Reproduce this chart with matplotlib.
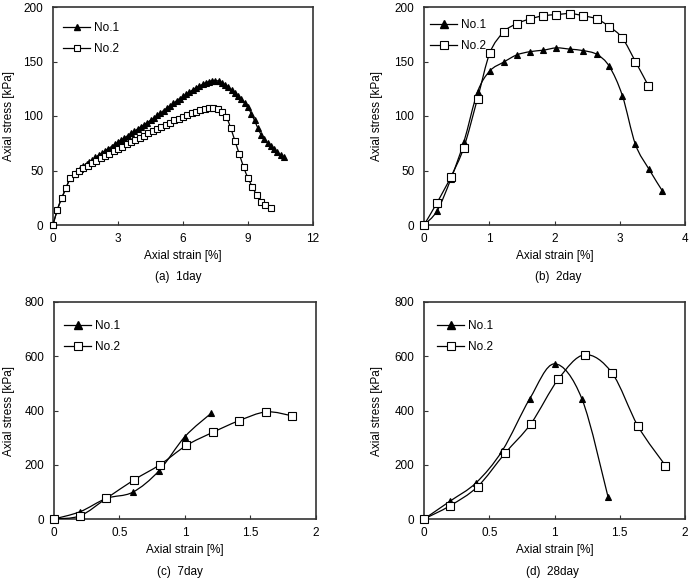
import numpy as np
import matplotlib
matplotlib.use("Agg")
import matplotlib.pyplot as plt
from matplotlib.path import Path
from matplotlib.patches import PathPatch
from matplotlib.lines import Line2D

plt.rcParams['font.family'] = ['Liberation Sans', 'DejaVu Sans']
plt.rcParams['font.size'] = 8.5

# ---------------- data ----------------
# (a) 1 day
a1_x = [0.00, 0.20, 0.40, 0.60, 0.80, 0.95, 1.10, 1.25, 1.40, 1.55, 1.65, 1.80, 1.95,
        2.10, 2.25, 2.40, 2.55, 2.70, 2.85, 3.00, 3.15, 3.30, 3.45, 3.60, 3.75, 3.90, 4.05,
        4.20, 4.35, 4.50, 4.65, 4.80, 4.95, 5.10, 5.25, 5.40, 5.55, 5.70, 5.85, 6.00, 6.15,
        6.30, 6.45, 6.60, 6.75, 6.90, 7.05, 7.20, 7.35, 7.50, 7.65, 7.80, 7.95, 8.10, 8.25,
        8.40, 8.55, 8.70, 8.85, 9.00, 9.15, 9.30, 9.45, 9.60, 9.75, 9.90, 10.05, 10.20,
        10.35, 10.50, 10.65]
a1_y = [0, 14, 24.5, 34, 43, 46.5, 49.5, 51.5, 54, 56, 57.5, 59.5, 62,
        64, 66, 68, 70, 72, 74, 76, 78, 80, 82, 84, 86, 88, 90,
        92, 94, 96, 98, 100.5, 102.5, 105, 107, 109.5, 111.5, 114, 116, 118, 120,
        122, 124, 126, 127.5, 129, 130.5, 131.5, 132.5, 132.5, 132, 130.5, 128.5, 126.5, 124,
        121.5, 118.5, 115.5, 112, 108, 102, 96, 89, 83, 78.5, 75.5, 72.5, 69.5,
        67, 64.5, 62]
a2_x = [0.0, 0.2, 0.4, 0.6, 0.8, 1.0, 1.2, 1.4, 1.6, 1.8, 2.0, 2.2, 2.4, 2.6, 2.8, 3.0,
        3.2, 3.4, 3.6, 3.8, 4.0, 4.2, 4.4, 4.6, 4.8, 5.0, 5.2, 5.4, 5.6, 5.8, 6.0, 6.2,
        6.4, 6.6, 6.8, 7.0, 7.2, 7.4, 7.6, 7.8, 8.0, 8.2, 8.4, 8.6, 8.8, 9.0, 9.2, 9.4,
        9.6, 9.8, 10.05]
a2_y = [0, 14, 24.5, 34, 43, 47, 49.5, 52, 54.5, 57, 59, 61.5, 63.5, 65.5, 68, 70,
        72, 74, 76, 78, 80, 82, 84, 86, 88, 90, 92, 94, 96, 97.5, 99.5, 101,
        102.5, 104, 105.5, 106.5, 107, 107.5, 106.5, 104, 99, 89, 77, 65, 53, 43, 35, 27.5,
        21.5, 18.5, 16]

# (b) 2 day
b1_x = [0, 0.2, 0.41, 0.61, 0.82, 1.01, 1.22, 1.42, 1.62, 1.83, 2.03, 2.24, 2.44, 2.65,
        2.84, 3.04, 3.24, 3.45, 3.65]
b1_y = [0, 12.9, 42, 76, 122, 141.4, 149.4, 156, 159, 160.4, 162.5, 161.3, 160, 156.5,
        145.5, 118.7, 74, 51, 31.6]
b2_x = [0, 0.2, 0.41, 0.61, 0.82, 1.01, 1.22, 1.42, 1.62, 1.83, 2.03, 2.24, 2.44, 2.65,
        2.84, 3.04, 3.24, 3.44]
b2_y = [0, 20.5, 44, 71, 116, 158, 177, 184.7, 189, 192, 193, 194, 192, 189,
        182, 171.5, 150, 127.6]

# (c) 7 day
c1_x = [0, 0.2, 0.4, 0.6, 0.8, 1.0, 1.2]
c1_y = [0, 27, 76, 98.5, 177, 304, 390]
c2_x = [0, 0.2, 0.4, 0.61, 0.81, 1.01, 1.21, 1.41, 1.62, 1.82]
c2_y = [0, 12, 76, 144, 200.6, 271, 319, 362, 395, 380]

# (d) 28 day
d1_x = [0, 0.2, 0.4, 0.6, 0.81, 1.0, 1.21, 1.41]
d1_y = [0, 66, 134, 252, 443, 572, 443, 82]
d2_x = [0, 0.2, 0.41, 0.62, 0.82, 1.03, 1.23, 1.44, 1.64, 1.85]
d2_y = [0, 49, 119, 242, 352, 516, 605.5, 539, 342, 197]

series_names = ["No.1", "No.2"]
captions = ["(a)  1day", "(b)  2day", "(c)  7day", "(d)  28day"]
xlabel = "Axial strain [%]"
ylabel = "Axial stress [kPa]"


def smooth_path(x, y):
    pts = np.column_stack([x, y]).astype(float)
    verts = [pts[0]]
    codes = [Path.MOVETO]
    n = len(pts)
    for i in range(n - 1):
        p0 = pts[i - 1] if i > 0 else pts[i]
        p1 = pts[i]
        p2 = pts[i + 1]
        p3 = pts[i + 2] if i + 2 < n else pts[i + 1]
        c1 = p1 + (p2 - p0) / 6.0
        c2 = p2 - (p3 - p1) / 6.0
        verts += [c1, c2, p2]
        codes += [Path.CURVE4] * 3
    return Path(verts, codes)


W, H = 693, 578
fig = plt.figure(figsize=(W / 100, H / 100), dpi=100)

panels = [
    dict(box=(53, 7, 313, 225), data=(a1_x, a1_y, a2_x, a2_y), xlim=(0, 12), xt=[0, 3, 6, 9, 12],
         ylim=(0, 200), yt=[0, 50, 100, 150, 200], leg=(63, 22), ms=(4.3, 4.7), cap=(178, 277),
         ylx=15),
    dict(box=(424, 7, 685, 225), data=(b1_x, b1_y, b2_x, b2_y), xlim=(0, 4), xt=[0, 1, 2, 3, 4],
         ylim=(0, 200), yt=[0, 50, 100, 150, 200], leg=(430, 19), ms=(4.8, 5.2), cap=(558, 277),
         ylx=383),
    dict(box=(54, 302, 316, 519), data=(c1_x, c1_y, c2_x, c2_y), xlim=(0, 2), xt=[0, 0.5, 1, 1.5, 2],
         ylim=(0, 800), yt=[0, 200, 400, 600, 800], leg=(64, 320), ms=(4.8, 5.2), cap=(180, 572),
         ylx=15),
    dict(box=(424, 302, 685, 519), data=(d1_x, d1_y, d2_x, d2_y), xlim=(0, 2), xt=[0, 0.5, 1, 1.5, 2],
         ylim=(0, 800), yt=[0, 200, 400, 600, 800], leg=(437, 320), ms=(4.8, 5.2), cap=(552, 572),
         ylx=383),
]

for i, p in enumerate(panels):
    l, t, r, b = p['box']
    ax = fig.add_axes([l / W, 1 - b / H, (r - l) / W, (b - t) / H])
    x1, y1, x2, y2 = p['data']
    ms1, ms2 = p['ms']
    for xs, ys, mk, fc, ms, z in [(x1, y1, '^', 'black', ms1, 3), (x2, y2, 's', 'white', ms2, 4)]:
        patch = PathPatch(smooth_path(xs, ys), fill=False, edgecolor='black', lw=0.9, zorder=z)
        ax.add_patch(patch)
        ax.plot(xs, ys, ls='none', marker=mk, ms=ms, mfc=fc, mec='black', mew=0.8, zorder=z + 0.5,
                clip_on=False)
    ax.set_xlim(*p['xlim'])
    ax.set_ylim(*p['ylim'])
    ax.set_xticks(p['xt'])
    ax.set_xticklabels([f"{v:g}" for v in p['xt']])
    ax.set_yticks(p['yt'])
    ax.tick_params(direction='in', length=3, width=0.8, color='#333333')
    ax.tick_params(axis='y', pad=7)
    ax.tick_params(axis='x', pad=6)
    for s in ax.spines.values():
        s.set_linewidth(1.2)
        s.set_color('#333333')
    ax.set_xlabel(xlabel, labelpad=3)
    ax.set_ylabel(ylabel)
    ax.yaxis.set_label_coords((p['ylx'] - l) / (r - l), 0.5)

    handles = [Line2D([], [], color='black', lw=0.9, marker='^', ms=ms1 + 0.4, mfc='black', mec='black'),
               Line2D([], [], color='black', lw=0.9, marker='s', ms=ms2, mfc='white', mec='black', mew=0.8)]
    lx, ly = p['leg']
    ax.legend(handles, series_names, loc='upper left',
              bbox_to_anchor=((lx - l) / (r - l), (b - ly) / (b - t)),
              frameon=False, borderpad=0, borderaxespad=0, handlelength=2.3,
              handletextpad=0.3, labelspacing=0.75)

    cx, cy = p['cap']
    fig.text(cx / W, 1 - cy / H, captions[i], ha='center', va='center')

fig.savefig("out.png", dpi=100)
